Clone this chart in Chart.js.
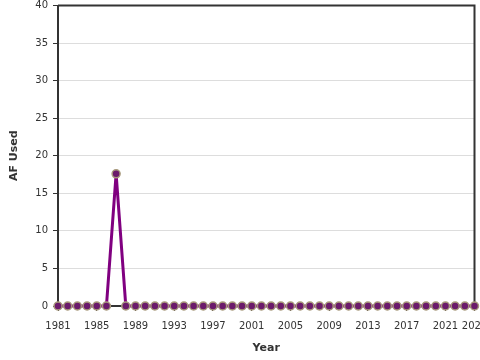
<!DOCTYPE html>
<html>
<head>
<meta charset="utf-8">
<script src="https://cdn.jsdelivr.net/npm/chart.js@4"></script>
<style>
  html, body { margin: 0; padding: 0; background: #fff; }
  #wrap { width: 480px; height: 360px; }
</style>
</head>
<body>
<div id="wrap"><canvas id="myChart" width="480" height="360"></canvas></div>
<script>
const years = [1981, 1982, 1983, 1984, 1985, 1986, 1987, 1988, 1989, 1990,
  1991, 1992, 1993, 1994, 1995, 1996, 1997, 1998, 1999, 2000,
  2001, 2002, 2003, 2004, 2005, 2006, 2007, 2008, 2009, 2010,
  2011, 2012, 2013, 2014, 2015, 2016, 2017, 2018, 2019, 2020,
  2021, 2022, 2023, 2024];
const afUsed = [0, 0, 0, 0, 0, 0, 17.6, 0, 0, 0,
  0, 0, 0, 0, 0, 0, 0, 0, 0, 0,
  0, 0, 0, 0, 0, 0, 0, 0, 0, 0,
  0, 0, 0, 0, 0, 0, 0, 0, 0, 0,
  0, 0, 0, 0];
const yearTicks = [1981, 1985, 1989, 1993, 1997, 2001, 2005, 2009, 2013, 2017, 2021, 2024];
const yTicks = [0, 5, 10, 15, 20, 25, 30, 35, 40];

const ctx = document.getElementById("myChart").getContext("2d");

// frame around the plot (top + right edges)
const framePlugin = {
  id: "frame",
  beforeDatasetsDraw(chart) {
    const a = chart.chartArea;
    const c = chart.ctx;
    c.save();
    c.strokeStyle = "#333";
    c.lineWidth = 2;
    c.beginPath();
    c.moveTo(a.left, a.top);
    c.lineTo(a.right, a.top);
    c.lineTo(a.right, a.bottom);
    c.stroke();
    c.restore();
  },
};

const points = years.map((y, i) => ({ x: y, y: afUsed[i] }));

new Chart(ctx, {
  type: "line",
  data: {
    datasets: [
      {
        data: points,
        borderColor: "#800080",
        borderWidth: 3,
        pointRadius: 4,
        pointBorderWidth: 1.5,
        pointBackgroundColor: "#6b1a6b",
        pointBorderColor: "#a89a7c",
        tension: 0,
        clip: false,
      },
    ],
  },
  options: {
    responsive: false,
    animation: false,
    layout: { padding: { top: 4, right: 5 } },
    plugins: { legend: { display: false }, tooltip: { enabled: false } },
    scales: {
      x: {
        type: "linear",
        min: 1981,
        max: 2024,
        afterBuildTicks: (s) => {
          s.ticks = yearTicks.map((v) => ({ value: v }));
        },
        afterFit: (s) => {
          s.height = 54;
          s.paddingLeft = 0;
          s.paddingRight = 0;
        },
        grid: { drawOnChartArea: false, tickLength: 5, tickColor: "#333" },
        border: { color: "#333", width: 2 },
        ticks: {
          maxRotation: 0,
          autoSkip: false,
          padding: 9,
          color: "#333",
          font: { family: "DejaVu Sans", size: 10 },
          callback: (v) => String(v),
        },
        title: {
          display: true,
          text: "Year",
          color: "#333",
          font: { family: "DejaVu Sans", size: 11, weight: "bold" },
          padding: { top: 0, bottom: 5 },
        },
      },
      y: {
        min: 0,
        max: 40,
        afterBuildTicks: (s) => {
          s.ticks = yTicks.map((v) => ({ value: v }));
        },
        afterFit: (s) => {
          s.width = 58;
          s.paddingTop = 0;
          s.paddingBottom = 0;
        },
        grid: { color: "#ddd", tickLength: 5, tickColor: "#333" },
        border: { color: "#333", width: 2 },
        ticks: {
          padding: 5,
          color: "#333",
          font: { family: "DejaVu Sans", size: 10 },
        },
        title: {
          display: true,
          text: "AF Used",
          color: "#333",
          font: { family: "DejaVu Sans", size: 11, weight: "bold" },
          padding: { top: 8, bottom: 0 },
        },
      },
    },
  },
  plugins: [framePlugin],
});
</script>
</body>
</html>
